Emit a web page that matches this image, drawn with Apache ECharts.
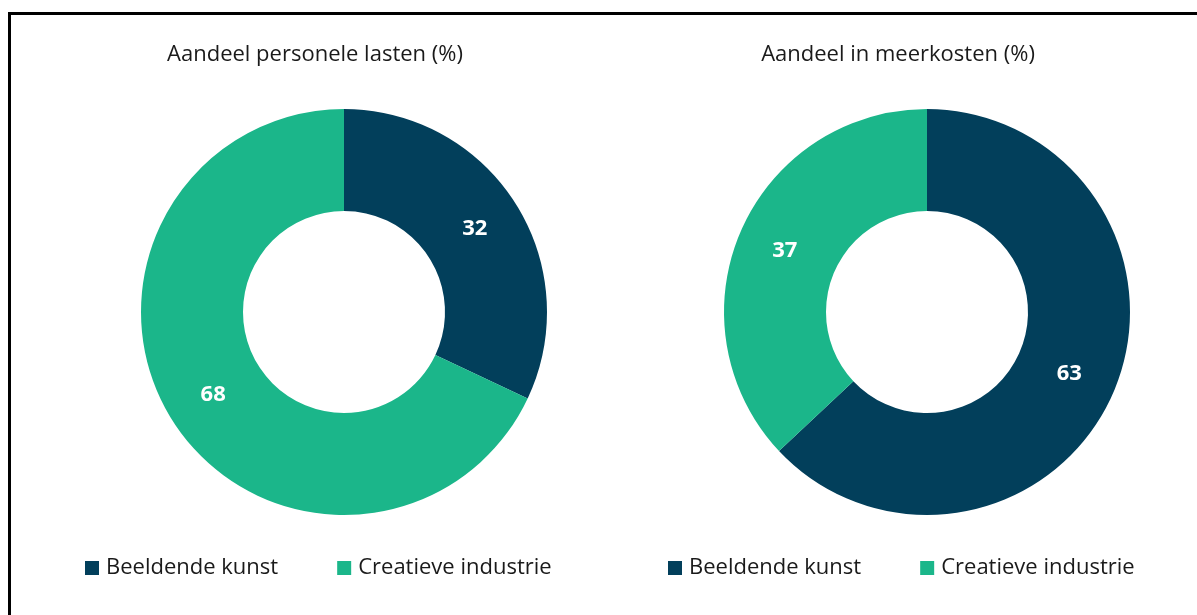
<!DOCTYPE html>
<html>
<head>
<meta charset="utf-8">
<style>
  html, body { margin: 0; padding: 0; background: #ffffff; }
  #chart { width: 1197px; height: 615px; }
</style>
<script src="https://cdn.jsdelivr.net/npm/echarts@6/dist/echarts.min.js"></script>
</head>
<body>
<div id="chart"></div>
<script>
// Categories and shares (%)
const categories = ['Beeldende kunst', 'Creatieve industrie'];
const personeleLasten = [32, 68];
const meerkosten = [63, 37];
const titles = ['Aandeel personele lasten (%)', 'Aandeel in meerkosten (%)'];
const colors = ['#023F5B', '#1BB68A'];

const fontFamily = '"Open Sans", "Noto Sans", sans-serif';

function pieData(values) {
  return categories.map((name, i) => ({ name, value: values[i] }));
}

function pieSeries(values, center) {
  return {
    type: 'pie',
    center: center,
    radius: [101, 203],
    startAngle: 90,
    clockwise: true,
    silent: true,
    avoidLabelOverlap: false,
    label: {
      show: true,
      position: 'inside',
      formatter: '{c}',
      color: '#ffffff',
      fontFamily: fontFamily,
      fontWeight: 'bold',
      fontSize: 22
    },
    labelLine: { show: false },
    itemStyle: { borderWidth: 0 },
    data: pieData(values)
  };
}

function legendAt(left, seriesIndex) {
  return {
    seriesIndex: seriesIndex,
    data: categories,
    left: left,
    top: 557,
    padding: 0,
    orient: 'horizontal',
    icon: 'rect',
    itemWidth: 14,
    itemHeight: 14,
    itemGap: 59,
    selectedMode: false,
    textStyle: { fontFamily: fontFamily, fontSize: 22, color: '#1a1a1a', padding: [0, 0, 0, 2] }
  };
}

const chart = echarts.init(document.getElementById('chart'), null, { renderer: 'canvas' });
chart.setOption({
  animation: false,
  color: colors,
  backgroundColor: '#ffffff',
  title: [
    { text: titles[0], left: 310, top: 39, textAlign: 'center',
      textStyle: { fontFamily: fontFamily, fontSize: 22, fontWeight: 'normal', color: '#1a1a1a' } },
    { text: titles[1], left: 893, top: 39, textAlign: 'center',
      textStyle: { fontFamily: fontFamily, fontSize: 22, fontWeight: 'normal', color: '#1a1a1a' } }
  ],
  legend: [
    legendAt(85, 0),
    legendAt(668, 1)
  ],
  series: [
    pieSeries(personeleLasten, [344, 312]),
    pieSeries(meerkosten, [927, 312])
  ],
  graphic: [
    {
      type: 'polyline',
      silent: true,
      shape: { points: [[9.5, 615], [9.5, 13.5], [1197, 13.5]] },
      style: { stroke: '#000000', lineWidth: 3, fill: null }
    }
  ]
});
</script>
</body>
</html>
